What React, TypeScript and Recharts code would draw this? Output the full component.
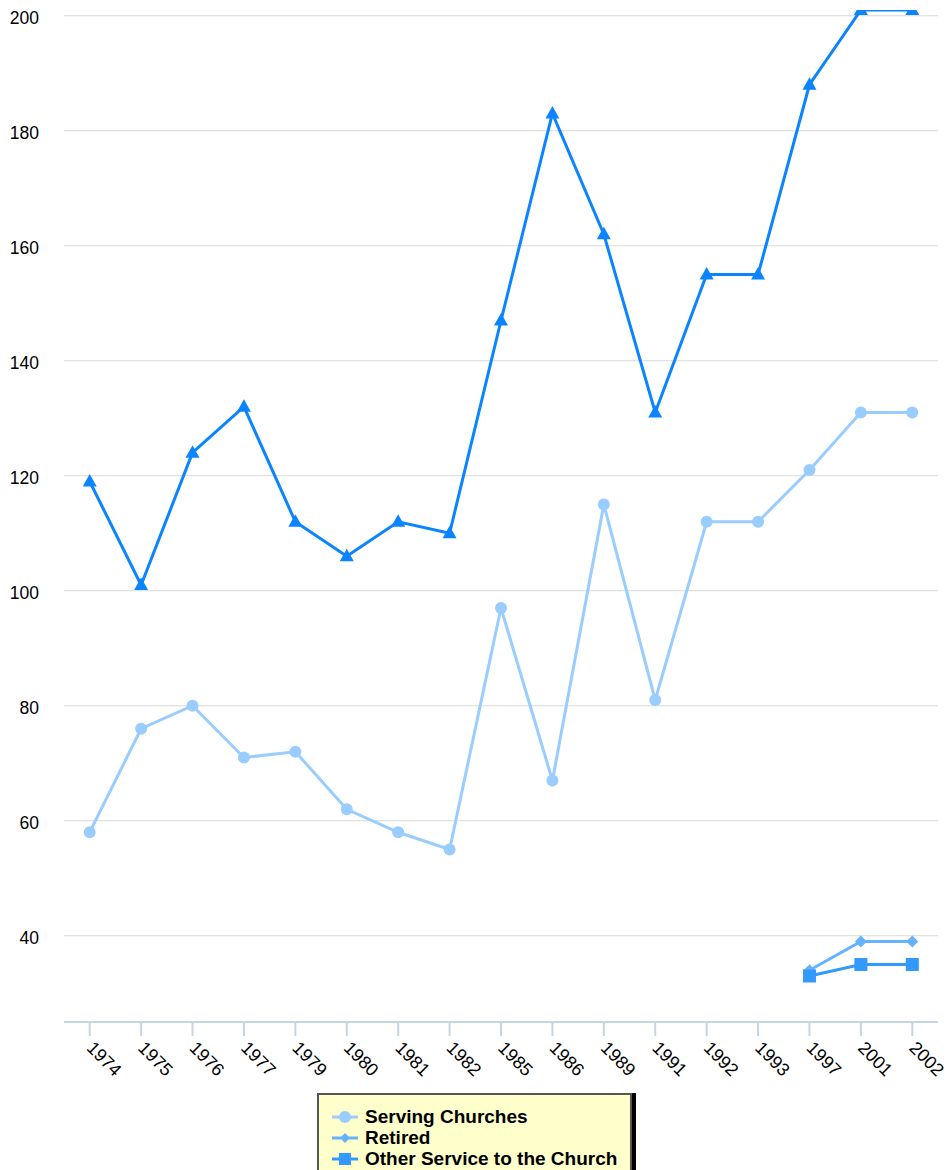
import React from 'react';
import { LineChart, Line, XAxis, YAxis, CartesianGrid } from 'recharts';

const years = ['1974', '1975', '1976', '1977', '1979', '1980', '1981', '1982', '1985', '1986', '1989', '1991', '1992', '1993', '1997', '2001', '2002'];
const serving = [58, 76, 80, 71, 72, 62, 58, 55, 97, 67, 115, 81, 112, 112, 121, 131, 131];
const retired = [null, null, null, null, null, null, null, null, null, null, null, null, null, null, 34, 39, 39];
const otherService = [null, null, null, null, null, null, null, null, null, null, null, null, null, null, 33, 35, 35];
const total = [119, 101, 124, 132, 112, 106, 112, 110, 147, 183, 162, 131, 155, 155, 188, 201, 201];
const yTicks = [40, 60, 80, 100, 120, 140, 160, 180, 200];

const data = years.map((year, i) => ({
  year,
  serving: serving[i],
  retired: retired[i],
  other: otherService[i],
  total: total[i],
}));

const FONT = '"Liberation Sans", Arial, Helvetica, sans-serif';

const C_SERVING = '#99ccff';
const C_RETIRED = '#66b2ff';
const C_OTHER = '#3399ff';
const C_TOTAL = '#0a84ff';

const circleDot = (color: string) => (props: any) => {
  const { cx, cy, index } = props;
  if (cy == null) return <g key={`c-${index}`} />;
  return <circle key={`c-${index}`} cx={cx} cy={cy} r={6} fill={color} />;
};

const diamondDot = (color: string) => (props: any) => {
  const { cx, cy, index } = props;
  if (cy == null) return <g key={`d-${index}`} />;
  const s = 6;
  return <path key={`d-${index}`} d={`M${cx},${cy - s}L${cx + s},${cy}L${cx},${cy + s}L${cx - s},${cy}Z`} fill={color} />;
};

const squareDot = (color: string) => (props: any) => {
  const { cx, cy, index } = props;
  if (cy == null) return <g key={`s-${index}`} />;
  const s = 6.5;
  return <rect key={`s-${index}`} x={cx - s} y={cy - s} width={s * 2} height={s * 2} fill={color} />;
};

const triangleDot = (color: string) => (props: any) => {
  const { cx, cy, index } = props;
  if (cy == null) return <g key={`t-${index}`} />;
  return <path key={`t-${index}`} d={`M${cx},${cy - 7.5}L${cx + 7},${cy + 5}L${cx - 7},${cy + 5}Z`} fill={color} />;
};

const XTick = ({ x, y, payload }: any) => {
  const ax = x - 4;
  const ay = y + 11;
  return (
    <text x={ax} y={ay} transform={`rotate(45, ${ax}, ${ay})`} textAnchor="start" fontSize={18} fontFamily={FONT} fill="#000">
      {payload.value}
    </text>
  );
};

const YTick = ({ y, payload }: any) => (
  <text x={39} y={y + 8} textAnchor="end" fontSize={17.5} fontFamily={FONT} fill="#000">
    {payload.value}
  </text>
);

const legendItems = [
  { name: 'Serving Churches', color: C_SERVING, shape: 'circle' },
  { name: 'Retired', color: C_RETIRED, shape: 'diamond' },
  { name: 'Other Service to the Church', color: C_OTHER, shape: 'square' },
];

const LegendIcon = ({ color, shape }: { color: string; shape: string }) => (
  <svg width={28} height={14} style={{ display: 'block', marginRight: 6 }}>
    <line x1={1} y1={7} x2={27} y2={7} stroke={color} strokeWidth={3} />
    {shape === 'circle' && <circle cx={14} cy={7} r={6} fill={color} />}
    {shape === 'diamond' && <path d="M14,2L19,7L14,12L9,7Z" fill={color} />}
    {shape === 'square' && <rect x={8} y={1} width={12} height={12} fill={color} />}
  </svg>
);

export default function App() {
  return (
    <div style={{ position: 'absolute', left: 0, top: 0, width: 948, height: 1170, overflow: 'hidden', background: '#fff' }}>
      <LineChart width={948} height={1090} data={data} margin={{ top: 10, right: 10, bottom: 8, left: 0 }}>
        <CartesianGrid vertical={false} horizontalValues={yTicks} stroke="#d9d9d9" strokeWidth={1.2} />
        <XAxis
          dataKey="year"
          padding={{ left: 25.7, right: 25.7 }}
          height={60}
          tickSize={14}
          axisLine={{ stroke: '#c6d4e4', strokeWidth: 2 }}
          tickLine={{ stroke: '#c6d4e4', strokeWidth: 2 }}
          tick={<XTick />}
          interval={0}
        />
        <YAxis
          width={64}
          domain={[25, 201]}
          ticks={yTicks}
          axisLine={false}
          tickLine={false}
          tick={<YTick />}
          allowDataOverflow
        />
        <Line type="linear" dataKey="serving" stroke={C_SERVING} strokeWidth={3} dot={circleDot(C_SERVING)} activeDot={false} isAnimationActive={false} />
        <Line type="linear" dataKey="retired" stroke={C_RETIRED} strokeWidth={3} dot={diamondDot(C_RETIRED)} activeDot={false} isAnimationActive={false} />
        <Line type="linear" dataKey="other" stroke={C_OTHER} strokeWidth={3} dot={squareDot(C_OTHER)} activeDot={false} isAnimationActive={false} />
        <Line type="linear" dataKey="total" stroke={C_TOTAL} strokeWidth={3} dot={triangleDot(C_TOTAL)} activeDot={false} isAnimationActive={false} />
      </LineChart>
      <div
        style={{
          position: 'absolute',
          left: 317,
          top: 1093,
          width: 315,
          height: 100,
          background: '#ffffcc',
          border: '2px solid #555',
          boxShadow: '4px 0 0 #000',
          padding: '11px 0 0 12px',
          boxSizing: 'border-box',
          fontFamily: FONT,
          fontWeight: 'bold',
          fontSize: 19,
          lineHeight: '21px',
          color: '#000',
        }}
      >
        {legendItems.map((it) => (
          <div key={it.name} style={{ display: 'flex', alignItems: 'center', whiteSpace: 'nowrap' }}>
            <LegendIcon color={it.color} shape={it.shape} />
            <span>{it.name}</span>
          </div>
        ))}
      </div>
    </div>
  );
}
